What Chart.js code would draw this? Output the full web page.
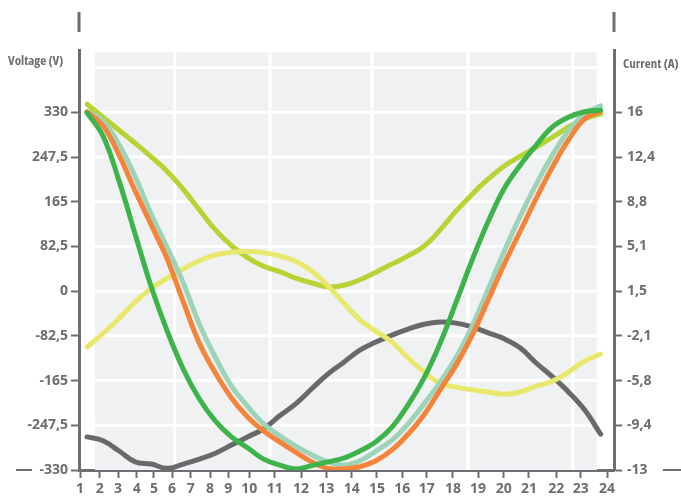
<!DOCTYPE html>
<html>
<head>
<meta charset="utf-8">
<script src="https://cdn.jsdelivr.net/npm/chart.js@4.4.1/dist/chart.umd.min.js"></script>
<style>
  html, body { margin: 0; padding: 0; background: #fff; }
  #wrap { width: 681px; height: 498px; }
</style>
</head>
<body>
<div id="wrap"><canvas id="chart"></canvas></div>
<script>
// x runs 0..100 across the plot; the hour labels sit where the original drew them
const xPoints = [1.5, 4.5, 7.5, 10.5, 13.5, 16.5, 19.5, 22.5, 25.5, 28.5, 31.5, 34.5, 37.5, 40.5, 43.5, 46.5, 49.5,
  52.5, 55.5, 58.5, 61.5, 64.5, 67.5, 70.5, 73.5, 76.5, 79.5, 82.5, 85.5, 88.5, 91.5, 94.5, 97.5];
const xTickPos = [0.2, 3.9, 7.3, 10.8, 14.0, 17.4, 20.9, 24.5, 27.9, 31.8, 36.6, 41.5, 46.2, 51.0, 55.7, 60.4,
  65.0, 69.9, 74.6, 79.4, 84.1, 89.2, 93.8, 98.7];
const xTickLabels = ["1", "2", "3", "4", "5", "6", "7", "8", "9", "10", "11", "12", "13", "14", "15", "16",
  "17", "18", "19", "20", "21", "22", "23", "24"];

const voltTicks = [-330, -247.5, -165, -82.5, 0, 82.5, 165, 247.5, 330];
const currentTicks = [-13, -9.375, -5.75, -2.125, 1.5, 5.125, 8.75, 12.375, 16];
const currentLabels = ["-13", "-9,4", "-5,8", "-2,1", "1,5", "5,1", "8,8", "12,4", "16"];

// light panel behind the curves and its white lines
const bandLinesX = [17.9, 35.7, 54.8, 72.7, 92.3];
const bandLinesY = [-247.5, -165, -82.5, 0, 82.5, 165, 247.5, 330, 412.5];

// series, in volts
const greenV = [329, 286, 203, 105, 8, -74, -144, -199, -240, -269, -289, -310, -321, -328, -322, -315, -308,
  -295, -278, -251, -210, -160, -96, -20, 58, 129, 190, 233, 270, 303, 321, 331, 334];
const orangeV = [331, 305, 251, 185, 122, 59, -20, -96, -151, -197, -232, -258, -278, -297, -315, -327, -328,
  -324, -313, -293, -264, -228, -182, -136, -81, -16, 50, 111, 172, 229, 279, 318, 332];
const tealV = [331, 314, 270, 211, 142, 80, 15, -61, -122, -175, -212, -245, -267, -286, -302, -315, -321,
  -313, -295, -275, -245, -208, -168, -122, -64, 4, 74, 139, 198, 251, 296, 327, 342];
const limeV = [345, 321, 297, 273, 248, 221, 188, 150, 113, 84, 62, 46, 36, 24, 15, 8, 11,
  21, 35, 50, 65, 83, 113, 148, 179, 207, 231, 249, 266, 284, 303, 318, 327];
const yellowV = [-103, -78, -50, -20, 5, 24, 41, 56, 67, 72, 73, 71, 65, 55, 37, 10, -22,
  -53, -74, -94, -123, -149, -170, -177, -182, -186, -190, -186, -175, -166, -149, -129, -116];
const grayV = [-269, -276, -295, -315, -319, -327, -319, -310, -299, -284, -269, -254, -230, -208, -180, -153, -131,
  -109, -94, -81, -70, -61, -57, -59, -66, -77, -88, -105, -133, -158, -186, -219, -264];

const AXIS = "#6d6e71";

// pick the narrowest installed face, the original uses a condensed grotesk
function pickFont() {
  const candidates = [
    ["", '"Roboto Condensed"'],
    ["", '"DejaVu Sans Condensed"'],
    ["", '"Liberation Sans Narrow"'],
    ["condensed", '"Noto Sans"'],
    ["condensed", '"Open Sans"'],
    ["condensed", "Roboto"],
    ["", "Roboto"]
  ];
  const ctx = document.createElement("canvas").getContext("2d");
  let best = candidates[candidates.length - 1], bestW = Infinity;
  candidates.forEach(c => {
    ctx.font = (c[0] ? c[0] + " " : "") + "bold 14px " + c[1] + ", monospace";
    const w = ctx.measureText("247,5 Voltage (V)").width;
    if (w < bestW) { bestW = w; best = c; }
  });
  return { stretch: best[0], family: best[1] + ", sans-serif", narrow: bestW < 120 };
}
const face = pickFont();

function line(values, color) {
  return {
    data: xPoints.map((x, i) => ({ x: x, y: values[i] })),
    borderColor: color,
    borderWidth: 5,
    borderCapStyle: "round",
    borderJoinStyle: "round",
    pointRadius: 0,
    tension: 0.4,
    fill: false
  };
}

// grey panel + white grid, drawn under the lines
const panelPlugin = {
  id: "panel",
  beforeDatasetsDraw(chart) {
    const { ctx, scales } = chart;
    const x = scales.x, y = scales.y;
    const left = x.getPixelForValue(3.0), right = x.getPixelForValue(96.8);
    const top = y.getPixelForValue(441), bottom = y.getPixelForValue(-330);
    ctx.save();
    ctx.fillStyle = "#f0f1f3";
    ctx.fillRect(left, top, right - left, bottom - top);
    ctx.strokeStyle = "#ffffff";
    ctx.lineWidth = 3;
    bandLinesX.forEach(v => {
      const px = x.getPixelForValue(v);
      ctx.beginPath(); ctx.moveTo(px, top); ctx.lineTo(px, bottom); ctx.stroke();
    });
    bandLinesY.forEach(v => {
      const py = y.getPixelForValue(v);
      ctx.beginPath(); ctx.moveTo(left, py); ctx.lineTo(right, py); ctx.stroke();
    });
    ctx.restore();
  }
};

// axis titles and the little stubs of the frame
const framePlugin = {
  id: "frame",
  afterDraw(chart) {
    const { ctx, chartArea } = chart;
    ctx.save();
    ctx.strokeStyle = AXIS;
    ctx.lineWidth = 3;
    ctx.beginPath();
    ctx.moveTo(chartArea.left, 12); ctx.lineTo(chartArea.left, 32);
    ctx.moveTo(chartArea.right, 12); ctx.lineTo(chartArea.right, 32);
    ctx.stroke();
    ctx.lineWidth = 2;
    ctx.beginPath();
    ctx.moveTo(16, chartArea.bottom); ctx.lineTo(32, chartArea.bottom);
    ctx.moveTo(663, chartArea.bottom); ctx.lineTo(681, chartArea.bottom);
    ctx.stroke();
    ctx.fillStyle = AXIS;
    ctx.font = (face.stretch ? face.stretch + " " : "") + "bold " + (face.narrow ? 13 : 11) + "px " + face.family;
    ctx.textBaseline = "middle";
    ctx.textAlign = "left";
    ctx.fillText("Voltage (V)", 8, 61);
    ctx.fillText("Current (A)", chartArea.right + 9, 64);
    ctx.restore();
  }
};

const tickFont = { family: face.family, size: face.narrow ? 14 : 13, weight: "bold", style: face.stretch || undefined };

new Chart(document.getElementById("chart"), {
  type: "line",
  data: {
    datasets: [
      line(greenV, "#3cb44a"),
      line(orangeV, "#f5843a"),
      line(tealV, "#9dd4b7"),
      line(yellowV, "#e8e86c"),
      line(limeV, "#b7d334"),
      line(grayV, "#69696c")
    ]
  },
  options: {
    responsive: true,
    maintainAspectRatio: false,
    animation: false,
    layout: { padding: { top: 50, left: 0, right: 0, bottom: 0 } },
    plugins: { legend: { display: false }, tooltip: { enabled: false } },
    scales: {
      x: {
        type: "linear",
        min: 0,
        max: 100,
        afterBuildTicks: s => { s.ticks = xTickPos.map(v => ({ value: v })); },
        afterFit: s => { s.height = 28; },
        border: { color: AXIS, width: 3 },
        grid: { drawOnChartArea: false, drawTicks: true, tickLength: 8, tickColor: AXIS, tickWidth: 2 },
        ticks: {
          autoSkip: false, maxRotation: 0, padding: 3, color: AXIS, font: tickFont,
          callback: (v, i) => xTickLabels[i]
        }
      },
      y: {
        position: "left",
        min: -330,
        max: 445,
        afterBuildTicks: s => { s.ticks = voltTicks.map(v => ({ value: v })); },
        afterFit: s => { s.width = 79; },
        border: { color: AXIS, width: 3 },
        grid: { drawOnChartArea: false, drawTicks: true, tickLength: 8, tickColor: AXIS, tickWidth: 2 },
        ticks: {
          padding: 3, color: AXIS, font: tickFont,
          callback: v => String(v).replace(".", ",")
        }
      },
      y2: {
        position: "right",
        min: -13,
        max: 21.05,
        afterBuildTicks: s => { s.ticks = currentTicks.map(v => ({ value: v })); },
        afterFit: s => { s.width = 67; },
        border: { color: AXIS, width: 3 },
        grid: { drawOnChartArea: false, drawTicks: true, tickLength: 8, tickColor: AXIS, tickWidth: 2 },
        ticks: {
          padding: 5, color: AXIS, font: tickFont,
          callback: (v, i) => currentLabels[i]
        }
      }
    }
  },
  plugins: [panelPlugin, framePlugin]
});
</script>
</body>
</html>
